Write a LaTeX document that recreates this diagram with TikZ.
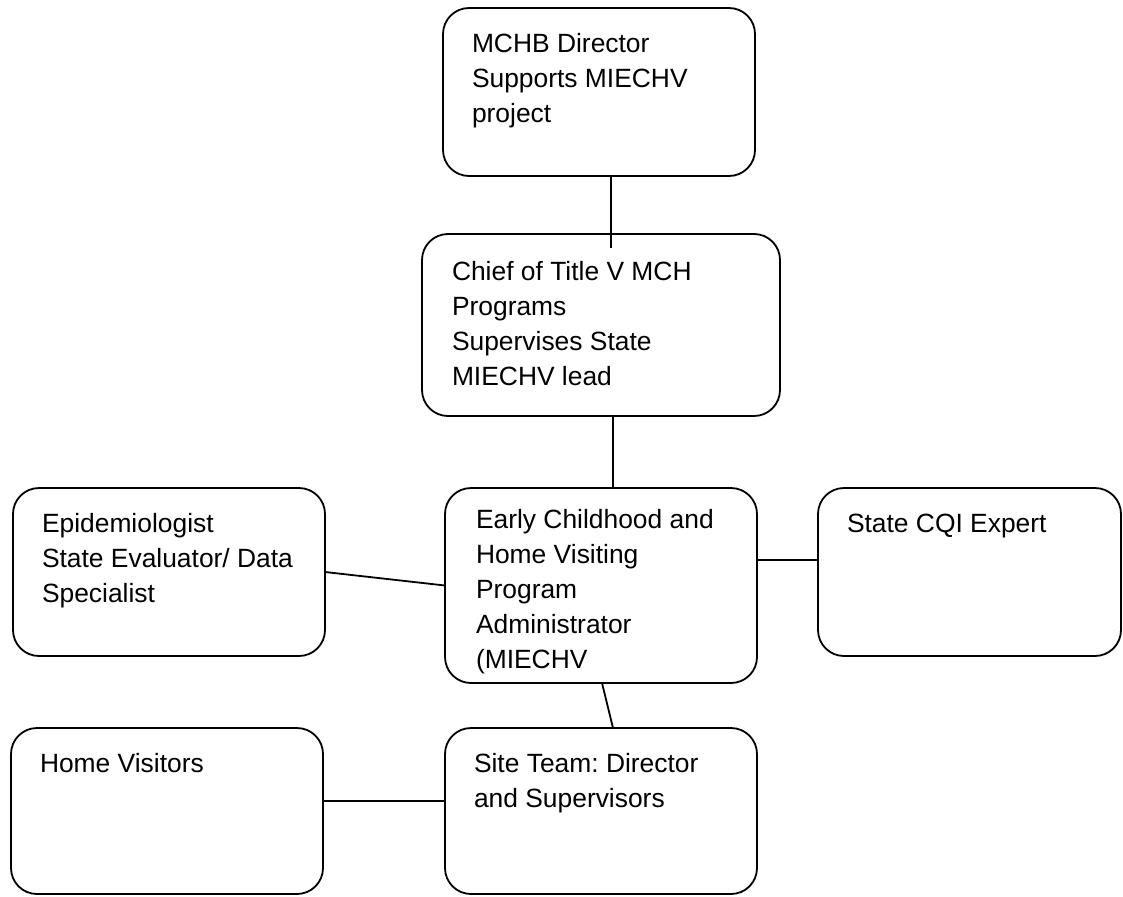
\documentclass[tikz,border=0pt]{standalone}
\usepackage{fontspec}
\setmainfont{Liberation Sans}
\frenchspacing
\begin{document}
\begin{tikzpicture}[x=1pt,y=-1pt,
  box/.style={draw=black, line width=1.8pt, rounded corners=26pt, inner sep=0pt, outer sep=0pt},
  txt/.style={anchor=base west, inner sep=0pt, outer sep=0pt, font=\fontsize{26.4}{35}\selectfont},
  link/.style={draw=black, line width=1.8pt}]
\useasboundingbox (0,0) rectangle (1123,896);
% boxes
\node[box, minimum width=312pt, minimum height=168pt] (mchb)  at (599,92) {};
\node[box, minimum width=358pt, minimum height=182pt] (chief) at (601,325) {};
\node[box, minimum width=312pt, minimum height=168pt] (epi)   at (169,572) {};
\node[box, minimum width=312pt, minimum height=195pt] (early) at (601,585.5) {};
\node[box, minimum width=303pt, minimum height=168pt] (cqi)   at (969.5,572) {};
\node[box, minimum width=312pt, minimum height=166pt] (home)  at (167,811) {};
\node[box, minimum width=312pt, minimum height=166pt] (site)  at (601,811) {};
% texts
\node[txt] (mchb-t)  at ([shift={(29,45)}]mchb.north west)  {\parbox[t]{300pt}{\raggedright MCHB Director\\Supports MIECHV\\project}};
\node[txt] (chief-t) at ([shift={(30,46)}]chief.north west) {\parbox[t]{330pt}{\raggedright Chief of Title V MCH\\Programs\\Supervises State\\MIECHV lead}};
\node[txt] (epi-t)   at ([shift={(29,44)}]epi.north west)   {\parbox[t]{300pt}{\raggedright Epidemiologist\\State Evaluator/ Data\\Specialist}};
\node[txt] (early-t) at ([shift={(31,40)}]early.north west) {\parbox[t]{300pt}{\raggedright Early Childhood and\\Home Visiting\\Program\\Administrator\\(MIECHV}};
\node[txt] (cqi-t)   at ([shift={(29,44)}]cqi.north west)   {\parbox[t]{280pt}{\raggedright State CQI Expert}};
\node[txt] (home-t)  at ([shift={(29,44)}]home.north west)  {\parbox[t]{280pt}{\raggedright Home Visitors}};
\node[txt] (site-t)  at ([shift={(29,44)}]site.north west)  {\parbox[t]{300pt}{\raggedright Site Team: Director\\and Supervisors}};
% connector helper coordinates
\coordinate (k1) at (611,248);
\coordinate (k2) at (613,0);
\coordinate (k3) at (0,560);
\coordinate (k4) at (602,0);
\coordinate (k5) at (613,0);
\coordinate (k6) at (0,801);
% connectors
\draw[link] (mchb.south -| k1) -- (k1);
\draw[link] (chief.south -| k2) -- (early.north -| k2);
\draw[link] (epi.east) -- (early.west);
\draw[link] (early.east |- k3) -- (cqi.west |- k3);
\draw[link] (early.south -| k4) -- (site.north -| k5);
\draw[link] (home.east |- k6) -- (site.west |- k6);
\end{tikzpicture}
\end{document}
